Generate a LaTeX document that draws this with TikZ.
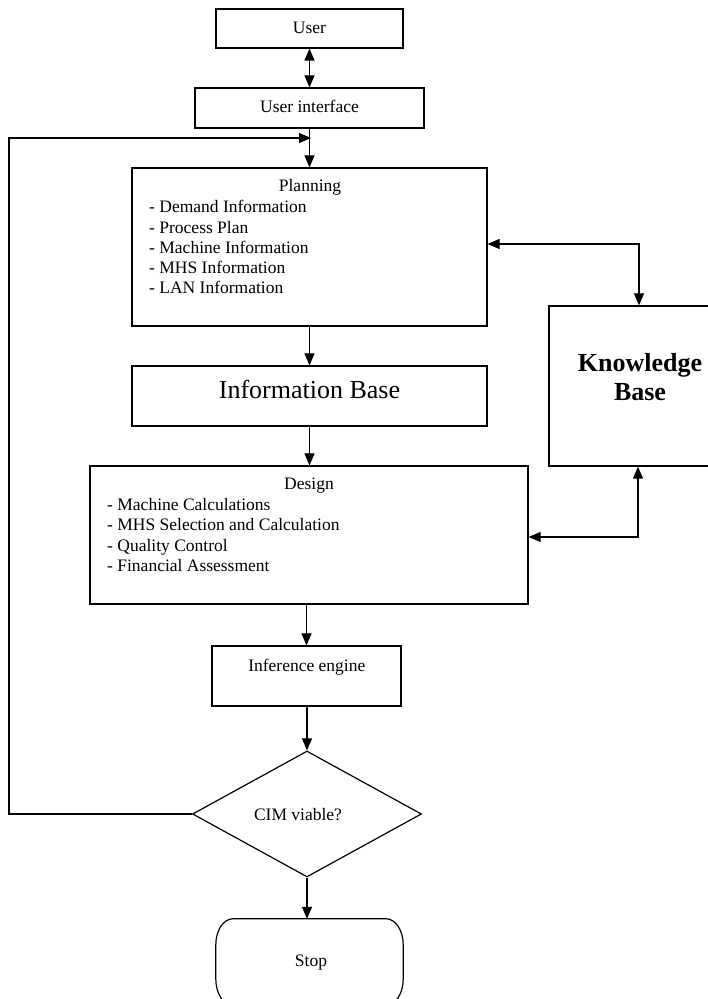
\documentclass[tikz,border=0pt]{standalone}
\usepackage{fontspec}
\setmainfont{Liberation Serif}
\usetikzlibrary{arrows.meta,shapes.geometric,calc}
\begin{document}
\begin{tikzpicture}[x=1pt,y=1pt,
 box/.style={draw, line width=1.2pt, inner sep=0pt},
 arr/.style={line width=1.2pt, -{Triangle[length=12pt,width=10pt]}},
 darr/.style={line width=1.2pt, {Triangle[length=12pt,width=10pt]}-{Triangle[length=12pt,width=10pt]}},
 txt/.style={inner sep=0pt, font=\fontsize{17.5}{20.3}\selectfont},
 big/.style={inner sep=0pt, font=\fontsize{26}{30}\selectfont},
 bigb/.style={inner sep=0pt, font=\bfseries\fontsize{26}{30}\selectfont},
]
\useasboundingbox (0,0) rectangle (708,999);
\clip (0,0) rectangle (708,999);
\fill[white] (0,0) rectangle (708,999);

% boxes
\node[box, minimum width=187pt, minimum height=39pt] (user) at (309.5,970.5) {};
\node[txt, anchor=base] (usert) at (309.5,965) {User};
\node[box, minimum width=229pt, minimum height=40pt] (ui) at (309.5,891) {};
\node[txt, anchor=base] (uit) at (309.5,886) {User interface};
\node[box, minimum width=355pt, minimum height=158pt] (plan) at (309.5,752) {};
\node[txt, anchor=base] (plant) at (310,807) {Planning};
\foreach \t [count=\i] in {Demand Information, Process Plan, Machine Information, MHS Information, LAN Information}
  \node[txt, anchor=base west] (pl\i) at (149,{786-20.2*(\i-1)}) {- \t};
\node[box, minimum width=355pt, minimum height=60pt] (info) at (309.5,603) {};
\node[big, anchor=base] (infot) at (309.5,600) {Information Base};
\node[box, minimum width=438pt, minimum height=138pt] (design) at (309,464) {};
\node[txt, anchor=base] (designt) at (309,509) {Design};
\foreach \t [count=\i] in {Machine Calculations, MHS Selection and Calculation, Quality Control, Financial Assessment}
  \node[txt, anchor=base west] (ds\i) at (107,{488.3-20.3*(\i-1)}) {- \t};
\node[box, minimum width=189pt, minimum height=60pt] (inf) at (306.5,323) {};
\node[txt, anchor=base] (inft) at (306.8,327) {Inference engine};
\node[box, minimum width=182pt, minimum height=160pt] (kb) at (640,613) {};
\node[bigb, anchor=base] (kbt1) at (640,627) {Knowledge};
\node[bigb, anchor=base] (kbt2) at (640,598) {Base};
\node[diamond, draw, line width=1.2pt, minimum width=229pt, minimum height=126pt, inner sep=0pt] (dia) at (307,185) {};
\node[txt, anchor=base] (diat) at (298,178) {CIM viable?};
\node[txt, minimum width=187pt, minimum height=86pt, text depth=0pt] (stop) at (309.5,37) {};
\node[txt, anchor=base] (stopt) at (311,32.3) {Stop};
\draw[line width=1.2pt] ([xshift=17pt]stop.north west) -- ([xshift=-17pt]stop.north east)
  arc[start angle=90, end angle=0, x radius=17pt, y radius=26pt]
  -- ([yshift=26pt]stop.south east)
  arc[start angle=0, end angle=-90, x radius=17pt, y radius=26pt]
  -- ([xshift=17pt]stop.south west)
  arc[start angle=270, end angle=180, x radius=17pt, y radius=26pt]
  -- ([yshift=-26pt]stop.north west)
  arc[start angle=180, end angle=90, x radius=17pt, y radius=26pt] -- cycle;

% connectors
\draw[darr] (user.south) -- (ui.north);
\draw[arr] (ui.south) -- (plan.north);
\draw[arr] (plan.south) -- (info.north);
\draw[arr] (info.south) -- (info.south |- design.north);
\draw[arr] (design.south -| inf.north) -- (inf.north);
\draw[arr] (dia.north |- inf.south) -- (dia.north);
\draw[arr] (dia.south) -- (dia.south |- stop.north);

\coordinate (fb1) at (9,185);
\coordinate (fb2) at (9,861);
\coordinate (fb3) at (311,861);
\draw[arr] (dia.west) -- (fb1) -- (fb2) -- (fb3);

\coordinate (k1) at (639,755);
\draw[darr] (plan.east |- k1) -- (k1) -- (k1 |- kb.north);
\coordinate (k2) at (638,462);
\draw[darr] (design.east |- k2) -- (k2) -- (k2 |- kb.south);
\end{tikzpicture}
\end{document}
